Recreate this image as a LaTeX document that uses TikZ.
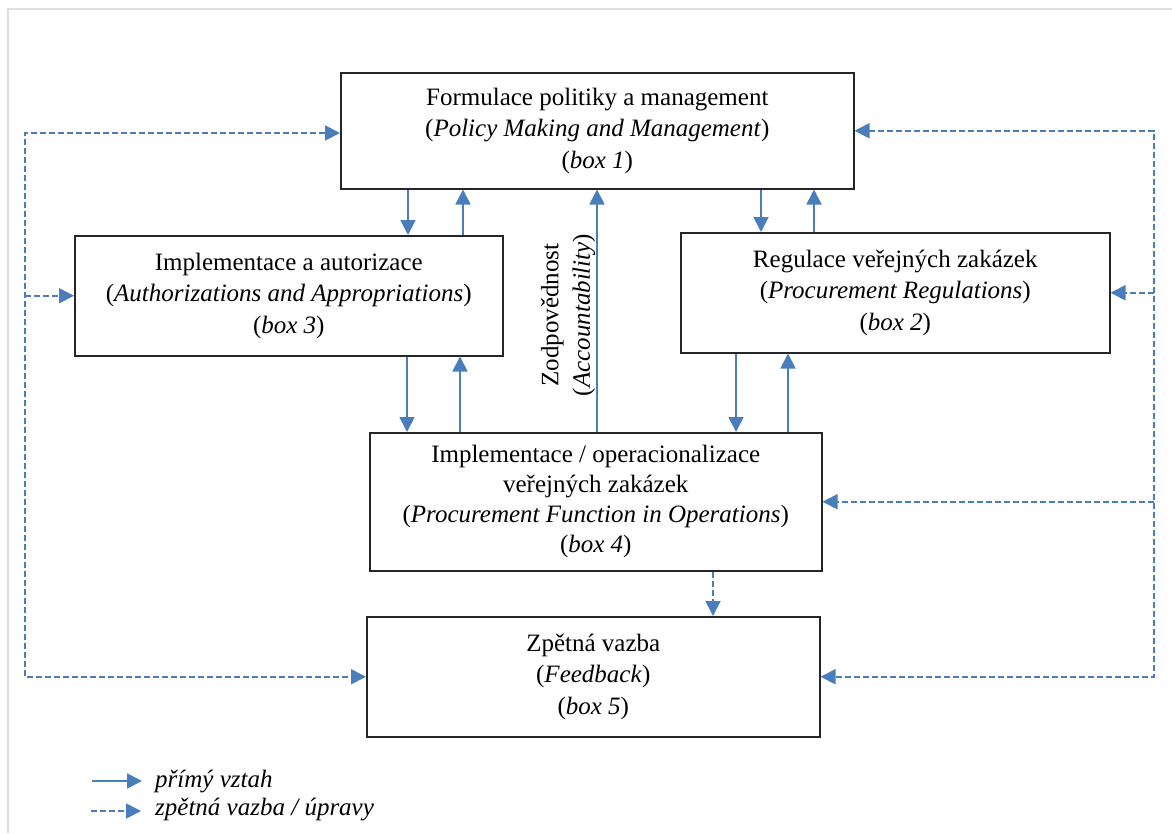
\documentclass[tikz,border=0pt]{standalone}
\usepackage{fontspec}
\setmainfont{Liberation Serif}
\usetikzlibrary{arrows.meta,calc}
\definecolor{linkblue}{RGB}{74,126,187}
\definecolor{framegray}{RGB}{222,222,222}
\begin{document}
\begin{tikzpicture}[x=1pt,y=-1pt,
  box/.style={draw=black!85, line width=1.5pt, anchor=north west, align=center,
    inner sep=0pt, font=\fontsize{25}{31.5}\selectfont},
  tip/.style={-{Triangle[length=15pt,width=15pt]}},
  bitip/.style={{Triangle[length=15pt,width=15pt]}-{Triangle[length=15pt,width=15pt]}},
  direct/.style={draw=linkblue, line width=1.8pt, tip},
  fb/.style={draw=linkblue, line width=1.8pt, dash pattern=on 6pt off 3pt},
  lbl/.style={font=\fontsize{25}{31.5}\selectfont, align=center, inner sep=0pt}]
\useasboundingbox (0,0) rectangle (1172,833);
% page frame
\draw[framegray, line width=1.2pt] (8,833) -- (8,9) -- (1172,9);

% boxes
\node[box, minimum width=513pt, minimum height=116pt] (b1) at (340,72)
  {Formulace politiky a management\\(\textit{Policy Making and Management})\\(\textit{box 1})};
\node[box, minimum width=428pt, minimum height=120pt] (b3) at (74,235)
  {Implementace a autorizace\\(\textit{Authorizations and Appropriations})\\(\textit{box 3})};
\node[box, minimum width=429pt, minimum height=120pt] (b2) at (680,232)
  {Regulace veřejných zakázek\\(\textit{Procurement Regulations})\\(\textit{box 2})};
\node[box, minimum width=452pt, minimum height=138pt, font=\fontsize{25}{30}\selectfont] (b4) at (369,432)
  {Implementace / operacionalizace\\veřejných zakázek\\(\textit{Procurement Function in Operations})\\(\textit{box 4})};
\node[box, minimum width=453pt, minimum height=120pt] (b5) at (366,616)
  {Zpětná vazba\\(\textit{Feedback})\\(\textit{box 5})};

% x positions of the vertical links
\coordinate (xa) at (408,0);
\coordinate (xb) at (463,0);
\coordinate (xc) at (761,0);
\coordinate (xd) at (814,0);
\coordinate (xe) at (407,0);
\coordinate (xf) at (460,0);
\coordinate (xg) at (736,0);
\coordinate (xh) at (788,0);
\coordinate (xm) at (597,0);
\coordinate (xn) at (713,0);

% direct relations
\draw[direct] (b1.south -| xa) -- (b3.north -| xa);
\draw[direct] (b3.north -| xb) -- (b1.south -| xb);
\draw[direct] (b1.south -| xc) -- (b2.north -| xc);
\draw[direct] (b2.north -| xd) -- (b1.south -| xd);
\draw[direct] (b3.south -| xe) -- (b4.north -| xe);
\draw[direct] (b4.north -| xf) -- (b3.south -| xf);
\draw[direct] (b2.south -| xg) -- (b4.north -| xg);
\draw[direct] (b4.north -| xh) -- (b2.south -| xh);
\draw[direct] (b4.north -| xm) -- (b1.south -| xm);
\node[lbl, rotate=90] (acc) at (568,315) {Zodpovědnost\\(\textit{Accountability})};

% feedback loops
\draw[fb, tip] (b4.south -| xn) -- (b5.north -| xn);
\coordinate (L1) at (25,133);
\coordinate (L2) at (L1 |- b5.west);
\draw[fb, bitip] (b1.west |- L1) -- (L1) -- (L2) -- (b5.west);
\draw[fb, tip] (L1 |- b3.west) -- (b3.west);
\coordinate (R1) at (1154,0 |- b1.east);
\coordinate (R2) at (R1 |- b5.east);
\draw[fb, bitip] (b1.east) -- (R1) -- (R2) -- (b5.east);
\draw[fb, tip] (R1 |- b2.east) -- (b2.east);
\draw[fb, tip] (R1 |- b4.east) -- (b4.east);

% legend
\coordinate (k1) at (92,781);
\coordinate (k2) at (142,781);
\coordinate (k3) at (91,811);
\coordinate (k4) at (141,811);
\draw[direct] (k1) -- (k2);
\draw[fb, tip] (k3) -- (k4);
\node[lbl, anchor=west] (t1) at (155,781) {\textit{přímý vztah}};
\node[lbl, anchor=west] (t2) at (155,809) {\textit{zpětná vazba / úpravy}};
\end{tikzpicture}
\end{document}
